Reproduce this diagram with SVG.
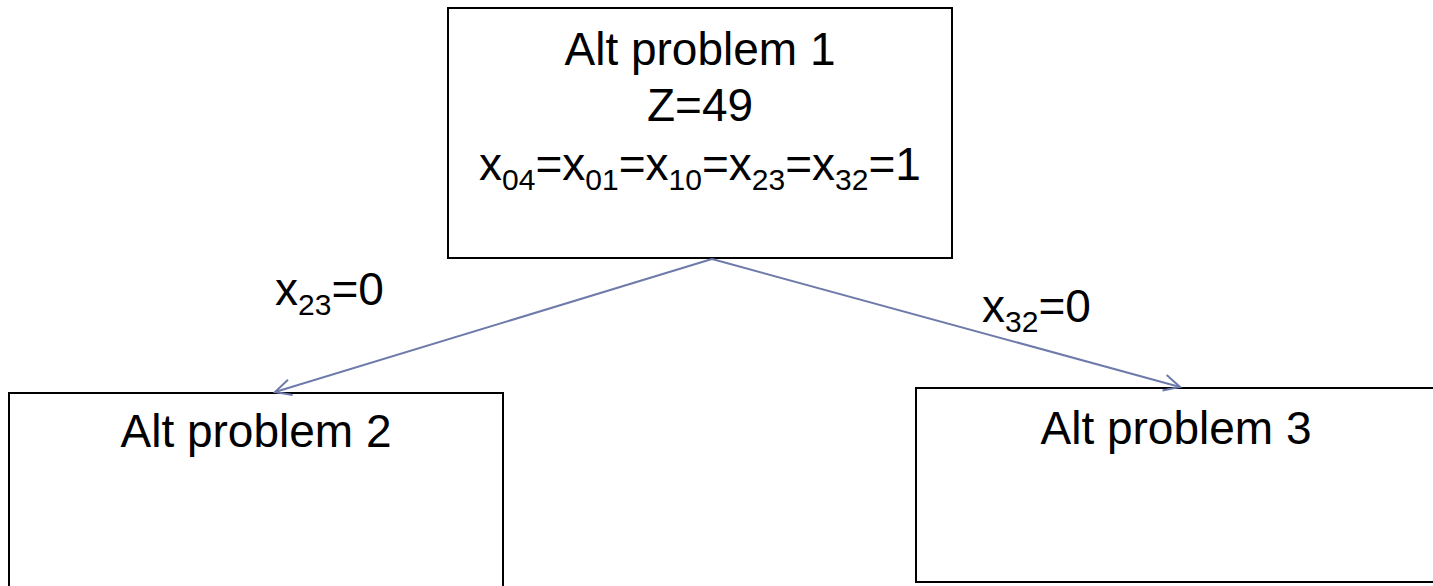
<svg xmlns="http://www.w3.org/2000/svg" width="1433" height="586" viewBox="0 0 1433 586">
<style>
.box{fill:#fff;stroke:#000;stroke-width:2}
.t{font-family:"Liberation Sans",Arial,sans-serif;font-size:46px;fill:#000}
.s{font-size:30px}
.edge{fill:none;stroke:#6E7BAA;stroke-width:2}
</style>
<defs>
<marker id="arr" viewBox="0 0 20 20" refX="18" refY="10" markerWidth="20" markerHeight="20" markerUnits="userSpaceOnUse" orient="auto">
<path d="M2,2 L18,10 L2,18" fill="none" stroke="#6E7BAA" stroke-width="2"/>
</marker>
</defs>
<rect width="1433" height="586" fill="#fff"/>
<g id="n1">
<rect class="box" x="448" y="8" width="504" height="250"/>
<text class="t" x="700" y="65" text-anchor="middle">Alt problem 1</text>
<text class="t" x="700" y="121" text-anchor="middle">Z=49</text>
<text class="t" x="700" y="180" text-anchor="middle">x<tspan class="s" dy="10">04</tspan><tspan dy="-10">=x</tspan><tspan class="s" dy="10">01</tspan><tspan dy="-10">=x</tspan><tspan class="s" dy="10">10</tspan><tspan dy="-10">=x</tspan><tspan class="s" dy="10">23</tspan><tspan dy="-10">=x</tspan><tspan class="s" dy="10">32</tspan><tspan dy="-10">=1</tspan></text>
</g>
<g id="n2">
<rect class="box" x="9" y="393" width="494" height="194"/>
<text class="t" x="256" y="447" text-anchor="middle">Alt problem 2</text>
</g>
<g id="n3">
<rect class="box" x="916" y="388" width="530" height="194"/>
<text class="t" x="1176" y="444" text-anchor="middle">Alt problem 3</text>
</g>
<g id="connectors">
<line class="edge" x1="712" y1="259" x2="275" y2="392" marker-end="url(#arr)"/>
<line class="edge" x1="712" y1="259" x2="1180" y2="387" marker-end="url(#arr)"/>
<text class="t" x="275" y="305">x<tspan class="s" dy="10">23</tspan><tspan dy="-10">=0</tspan></text>
<text class="t" x="982" y="322">x<tspan class="s" dy="10">32</tspan><tspan dy="-10">=0</tspan></text>
</g>
</svg>
